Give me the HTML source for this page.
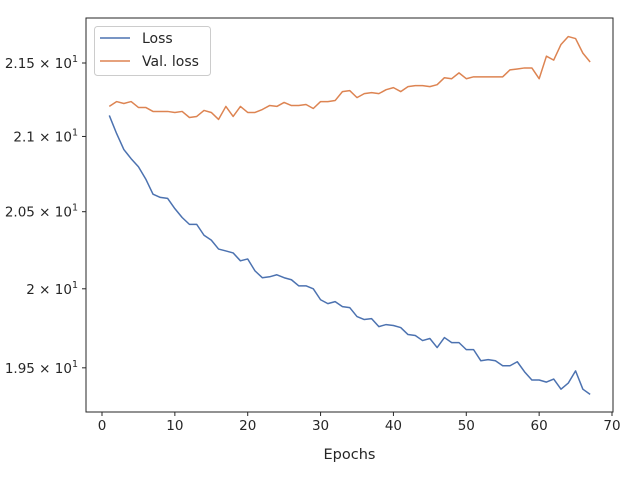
<!DOCTYPE html>
<html><head><meta charset="utf-8"><style>
body{margin:0;background:#fff;font-family:"Liberation Sans","DejaVu Sans",sans-serif;}
svg text{font-family:"DejaVu Sans","Liberation Sans",sans-serif;fill:#262626;}
</style></head><body>
<svg id="chart" width="640" height="480" viewBox="0 0 640 480" xmlns="http://www.w3.org/2000/svg">
<rect x="0" y="0" width="640" height="480" fill="#fff"/>
<g id="marks"></g>
<g id="axes"></g>
</svg>
<script>
const epochs = Array.from({length:67},(_,i)=>i+1);
const lossValues = [21.142,21.020,20.912,20.851,20.797,20.716,20.615,20.594,20.588,20.520,20.462,20.417,20.417,20.346,20.314,20.256,20.244,20.231,20.180,20.192,20.115,20.071,20.077,20.090,20.071,20.058,20.019,20.019,20.000,19.930,19.905,19.918,19.886,19.880,19.823,19.804,19.810,19.759,19.772,19.766,19.753,19.709,19.703,19.671,19.684,19.627,19.690,19.658,19.658,19.614,19.614,19.544,19.551,19.544,19.513,19.513,19.538,19.475,19.424,19.424,19.411,19.430,19.367,19.405,19.481,19.367,19.335];
const valLossValues = [21.203,21.236,21.223,21.236,21.196,21.196,21.169,21.169,21.169,21.162,21.169,21.128,21.135,21.176,21.162,21.115,21.203,21.135,21.203,21.162,21.162,21.182,21.209,21.203,21.230,21.209,21.209,21.216,21.189,21.236,21.236,21.243,21.304,21.311,21.263,21.290,21.297,21.290,21.317,21.331,21.304,21.338,21.345,21.345,21.338,21.351,21.399,21.392,21.432,21.392,21.405,21.405,21.405,21.405,21.405,21.453,21.459,21.466,21.466,21.392,21.547,21.520,21.628,21.683,21.669,21.568,21.507];
const xTicks = [0,10,20,30,40,50,60,70];
const yTicks = [19.5,20,20.5,21,21.5];
const yTickMantissa = ["1.95","2","2.05","2.1","2.15"];

const NS="http://www.w3.org/2000/svg";
const L=86,R=613,T=18,B=412;
function xs(v){return 102+(v-0)*(612-102)/70;}
function ys(v){return 63+(Math.log(21.5)-Math.log(v))*3122;}
function mk(tag,attrs,parent){const e=document.createElementNS(NS,tag);for(const k in attrs)e.setAttribute(k,attrs[k]);parent.appendChild(e);return e;}
const marks=document.getElementById('marks');
const axes=document.getElementById('axes');

function drawLine(vals,color,name){
  const p=mk('polyline',{points:vals.map((v,i)=>xs(epochs[i]).toFixed(2)+','+ys(v).toFixed(2)).join(' '),fill:'none',stroke:color,'stroke-width':1.5,'stroke-linejoin':'round'},marks);
  
  
}
drawLine(lossValues,'#4c72b0','loss-line');
drawLine(valLossValues,'#dd8452','val-loss-line');

const frame=mk('rect',{x:L,y:T,width:R-L,height:B-T,fill:'none',stroke:'#262626','stroke-width':1},axes);



xTicks.forEach(t=>{
  const x=xs(t);
  const tk=mk('line',{x1:x,x2:x,y1:B,y2:B+4,stroke:'#262626','stroke-width':1},axes);
  
  
  const tx=mk('text',{x:x,y:B+18,'text-anchor':'middle','font-size':'13.5'},axes);
  tx.textContent=t;
  
  
});
yTicks.forEach((t,i)=>{
  const y=ys(t);
  const tk=mk('line',{x1:L-4,x2:L,y1:y,y2:y,stroke:'#262626','stroke-width':1},axes);
  
  
  const tx=mk('text',{x:L-8,y:y+5,'text-anchor':'end','font-size':'13.5'},axes);
  tx.textContent=yTickMantissa[i]+' \u00d7 10';
  const sup=mk('tspan',{dy:-6,'font-size':'9.5'},tx);
  sup.textContent='1';
  
  
});
const xl=mk('text',{x:(L+R)/2,y:459,'text-anchor':'middle','font-size':'14.5'},axes);
xl.textContent='Epochs';



const lg=mk('g',{},axes);


mk('rect',{x:94.5,y:26.5,width:116,height:49,rx:3,fill:'#fff','fill-opacity':0.8,stroke:'#cccccc','stroke-width':1},lg);
[['Loss','#4c72b0',38],['Val. loss','#dd8452',61]].forEach(([lab,c,y])=>{
  const e=mk('g',{},lg);
  
  
  mk('line',{x1:100,x2:130,y1:y,y2:y,stroke:c,'stroke-width':1.5},e);
  const t=mk('text',{x:142,y:y+5,'font-size':'14'},e);
  t.textContent=lab;
});
</script>
</body></html>
